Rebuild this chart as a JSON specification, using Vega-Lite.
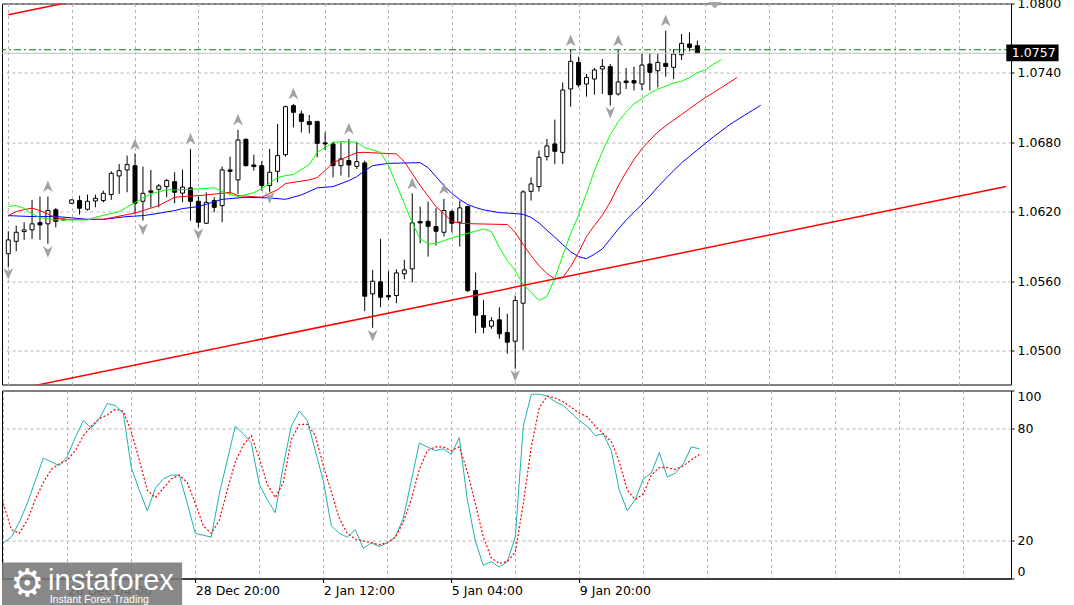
{
  "$schema": "https://vega.github.io/schema/vega-lite/v6.json",
  "background": "white",
  "padding": {"top": -3.5, "left": 0, "right": 0, "bottom": 0},
  "spacing": 4,
  "config": {
    "view": {"stroke": "#000000", "strokeWidth": 1},
    "axis": {"labelFont": "DejaVu Sans", "labelFontSize": 12.5, "labelColor": "#000000", "tickColor": "#000000", "domainColor": "#000000", "gridColor": "#b4b4b4", "gridDash": [3, 3], "gridWidth": 1, "title": null}
  },
  "datasets": {
    "candles": [
      {"i":0,"o":1.05836,"h":1.06031,"l":1.05720,"c":1.05956},
      {"i":1,"o":1.05944,"h":1.06080,"l":1.05858,"c":1.06022},
      {"i":2,"o":1.06028,"h":1.06109,"l":1.05956,"c":1.06043},
      {"i":3,"o":1.06043,"h":1.06302,"l":1.05965,"c":1.06095},
      {"i":4,"o":1.06106,"h":1.06331,"l":1.05956,"c":1.06086},
      {"i":5,"o":1.06095,"h":1.06331,"l":1.05922,"c":1.06210},
      {"i":6,"o":1.06216,"h":1.06233,"l":1.06065,"c":1.06117},
      {"i":7,"o":1.06135,"h":1.06141,"l":1.06126,"c":1.06129},
      {"i":8,"o":1.06273,"h":1.06305,"l":1.06268,"c":1.06302},
      {"i":9,"o":1.06296,"h":1.06339,"l":1.06175,"c":1.06230},
      {"i":10,"o":1.06221,"h":1.06348,"l":1.06210,"c":1.06290},
      {"i":11,"o":1.06293,"h":1.06348,"l":1.06238,"c":1.06316},
      {"i":12,"o":1.06296,"h":1.06382,"l":1.06281,"c":1.06359},
      {"i":13,"o":1.06348,"h":1.06549,"l":1.06302,"c":1.06532},
      {"i":14,"o":1.06509,"h":1.06613,"l":1.06354,"c":1.06555},
      {"i":15,"o":1.06561,"h":1.06685,"l":1.06368,"c":1.06607},
      {"i":16,"o":1.06598,"h":1.06702,"l":1.06181,"c":1.06273},
      {"i":17,"o":1.06290,"h":1.06590,"l":1.06123,"c":1.06359},
      {"i":18,"o":1.06380,"h":1.06561,"l":1.06238,"c":1.06368},
      {"i":19,"o":1.06394,"h":1.06440,"l":1.06238,"c":1.06423},
      {"i":20,"o":1.06417,"h":1.06483,"l":1.06325,"c":1.06469},
      {"i":21,"o":1.06460,"h":1.06541,"l":1.06273,"c":1.06368},
      {"i":22,"o":1.06361,"h":1.06564,"l":1.06283,"c":1.06413},
      {"i":23,"o":1.06406,"h":1.06743,"l":1.06123,"c":1.06290},
      {"i":24,"o":1.06290,"h":1.06331,"l":1.06065,"c":1.06109},
      {"i":25,"o":1.06100,"h":1.06368,"l":1.06095,"c":1.06281},
      {"i":26,"o":1.06296,"h":1.06325,"l":1.06195,"c":1.06238},
      {"i":27,"o":1.06253,"h":1.06590,"l":1.06109,"c":1.06561},
      {"i":28,"o":1.06561,"h":1.06676,"l":1.06354,"c":1.06549},
      {"i":29,"o":1.06475,"h":1.06907,"l":1.06354,"c":1.06820},
      {"i":30,"o":1.06826,"h":1.06832,"l":1.06590,"c":1.06598},
      {"i":31,"o":1.06604,"h":1.06693,"l":1.06555,"c":1.06590},
      {"i":32,"o":1.06598,"h":1.06636,"l":1.06382,"c":1.06426},
      {"i":33,"o":1.06426,"h":1.06743,"l":1.06368,"c":1.06541},
      {"i":34,"o":1.06549,"h":1.06959,"l":1.06454,"c":1.06685},
      {"i":35,"o":1.06693,"h":1.07117,"l":1.06676,"c":1.07108},
      {"i":36,"o":1.07117,"h":1.07132,"l":1.06929,"c":1.07059},
      {"i":37,"o":1.07045,"h":1.07074,"l":1.06886,"c":1.06981},
      {"i":38,"o":1.06979,"h":1.07036,"l":1.06877,"c":1.06953},
      {"i":39,"o":1.06979,"h":1.06987,"l":1.06670,"c":1.06791},
      {"i":40,"o":1.06795,"h":1.06886,"l":1.06734,"c":1.06786},
      {"i":41,"o":1.06786,"h":1.06806,"l":1.06497,"c":1.06598},
      {"i":42,"o":1.06598,"h":1.06800,"l":1.06512,"c":1.06656},
      {"i":43,"o":1.06642,"h":1.06829,"l":1.06497,"c":1.06604},
      {"i":44,"o":1.06592,"h":1.06800,"l":1.06570,"c":1.06633},
      {"i":45,"o":1.06622,"h":1.06642,"l":1.05340,"c":1.05469},
      {"i":46,"o":1.05490,"h":1.05697,"l":1.05196,"c":1.05599},
      {"i":47,"o":1.05594,"h":1.05965,"l":1.05374,"c":1.05461},
      {"i":48,"o":1.05475,"h":1.05685,"l":1.05438,"c":1.05464},
      {"i":49,"o":1.05475,"h":1.05702,"l":1.05409,"c":1.05671},
      {"i":50,"o":1.05663,"h":1.05784,"l":1.05616,"c":1.05697},
      {"i":51,"o":1.05706,"h":1.06359,"l":1.05590,"c":1.06103},
      {"i":52,"o":1.06115,"h":1.06244,"l":1.05927,"c":1.06103},
      {"i":53,"o":1.06117,"h":1.06287,"l":1.05812,"c":1.06074},
      {"i":54,"o":1.06071,"h":1.06233,"l":1.05907,"c":1.06031},
      {"i":55,"o":1.06022,"h":1.06311,"l":1.05985,"c":1.06210},
      {"i":56,"o":1.06201,"h":1.06216,"l":1.06022,"c":1.06100},
      {"i":57,"o":1.06109,"h":1.06296,"l":1.05899,"c":1.06233},
      {"i":58,"o":1.06244,"h":1.06253,"l":1.05504,"c":1.05518},
      {"i":59,"o":1.05518,"h":1.05674,"l":1.05149,"c":1.05305},
      {"i":60,"o":1.05302,"h":1.05438,"l":1.05149,"c":1.05201},
      {"i":61,"o":1.05210,"h":1.05288,"l":1.05188,"c":1.05257},
      {"i":62,"o":1.05265,"h":1.05374,"l":1.05101,"c":1.05144},
      {"i":63,"o":1.05156,"h":1.05317,"l":1.04972,"c":1.05072},
      {"i":64,"o":1.05080,"h":1.05475,"l":1.04842,"c":1.05432},
      {"i":65,"o":1.05409,"h":1.06385,"l":1.05006,"c":1.06371},
      {"i":66,"o":1.06376,"h":1.06497,"l":1.06296,"c":1.06440},
      {"i":67,"o":1.06417,"h":1.06728,"l":1.06376,"c":1.06670},
      {"i":68,"o":1.06676,"h":1.06829,"l":1.06642,"c":1.06769},
      {"i":69,"o":1.06786,"h":1.06996,"l":1.06613,"c":1.06722},
      {"i":70,"o":1.06713,"h":1.07318,"l":1.06613,"c":1.07252},
      {"i":71,"o":1.07261,"h":1.07598,"l":1.07108,"c":1.07500},
      {"i":72,"o":1.07491,"h":1.07540,"l":1.07275,"c":1.07296},
      {"i":73,"o":1.07304,"h":1.07391,"l":1.07195,"c":1.07361},
      {"i":74,"o":1.07347,"h":1.07443,"l":1.07212,"c":1.07425},
      {"i":75,"o":1.07434,"h":1.07520,"l":1.07218,"c":1.07456},
      {"i":76,"o":1.07454,"h":1.07477,"l":1.07117,"c":1.07212},
      {"i":77,"o":1.07218,"h":1.07598,"l":1.07203,"c":1.07322},
      {"i":78,"o":1.07330,"h":1.07443,"l":1.07261,"c":1.07316},
      {"i":79,"o":1.07333,"h":1.07454,"l":1.07248,"c":1.07313},
      {"i":80,"o":1.07304,"h":1.07563,"l":1.07252,"c":1.07468},
      {"i":81,"o":1.07477,"h":1.07569,"l":1.07248,"c":1.07405},
      {"i":82,"o":1.07419,"h":1.07563,"l":1.07275,"c":1.07491},
      {"i":83,"o":1.07482,"h":1.07765,"l":1.07367,"c":1.07456},
      {"i":84,"o":1.07448,"h":1.07607,"l":1.07347,"c":1.07563},
      {"i":85,"o":1.07557,"h":1.07736,"l":1.07512,"c":1.07655},
      {"i":86,"o":1.07650,"h":1.07750,"l":1.07586,"c":1.07621},
      {"i":87,"o":1.07635,"h":1.07679,"l":1.07572,"c":1.07572}
    ],
    "gator": [
      {"s":"jaw","i":0,"p":1.06166},{"s":"jaw","i":3,"p":1.06158},{"s":"jaw","i":6,"p":1.06158},{"s":"jaw","i":8,"p":1.06147},{"s":"jaw","i":10,"p":1.06134},{"s":"jaw","i":12,"p":1.06134},{"s":"jaw","i":15,"p":1.06158},{"s":"jaw","i":17,"p":1.06166},{"s":"jaw","i":19,"p":1.06186},{"s":"jaw","i":21,"p":1.06210},{"s":"jaw","i":22,"p":1.06227},{"s":"jaw","i":24,"p":1.06244},{"s":"jaw","i":27,"p":1.06307},{"s":"jaw","i":30,"p":1.06325},{"s":"jaw","i":33,"p":1.06319},{"s":"jaw","i":35,"p":1.06307},{"s":"jaw","i":37,"p":1.06345},{"s":"jaw","i":39,"p":1.06406},{"s":"jaw","i":41,"p":1.06417},{"s":"jaw","i":43,"p":1.06469},{"s":"jaw","i":44,"p":1.06503},{"s":"jaw","i":45,"p":1.06555},{"s":"jaw","i":46,"p":1.06598},{"s":"jaw","i":48,"p":1.06618},{"s":"jaw","i":52,"p":1.06624},{"s":"jaw","i":53,"p":1.06581},{"s":"jaw","i":54,"p":1.06503},{"s":"jaw","i":55,"p":1.06426},{"s":"jaw","i":56,"p":1.06357},{"s":"jaw","i":57,"p":1.06305},{"s":"jaw","i":58,"p":1.06262},{"s":"jaw","i":59,"p":1.06236},{"s":"jaw","i":60,"p":1.06216},{"s":"jaw","i":62,"p":1.06192},{"s":"jaw","i":64,"p":1.06184},{"s":"jaw","i":65,"p":1.06177},{"s":"jaw","i":66,"p":1.06151},{"s":"jaw","i":67,"p":1.06103},{"s":"jaw","i":68,"p":1.06040},{"s":"jaw","i":69,"p":1.05979},{"s":"jaw","i":70,"p":1.05916},{"s":"jaw","i":71,"p":1.05853},{"s":"jaw","i":72,"p":1.05811},{"s":"jaw","i":73,"p":1.05794},{"s":"jaw","i":74,"p":1.05832},{"s":"jaw","i":75,"p":1.05878},{"s":"jaw","i":76,"p":1.05962},{"s":"jaw","i":77,"p":1.06049},{"s":"jaw","i":78,"p":1.06127},{"s":"jaw","i":79,"p":1.06195},{"s":"jaw","i":80,"p":1.06264},{"s":"jaw","i":81,"p":1.06335},{"s":"jaw","i":82,"p":1.06414},{"s":"jaw","i":83,"p":1.06486},{"s":"jaw","i":84,"p":1.06555},{"s":"jaw","i":85,"p":1.06622},{"s":"jaw","i":86,"p":1.06678},{"s":"jaw","i":87,"p":1.06734},{"s":"jaw","i":88,"p":1.06790},{"s":"jaw","i":89,"p":1.06846},{"s":"jaw","i":90,"p":1.06897},{"s":"jaw","i":91,"p":1.06949},{"s":"jaw","i":92,"p":1.06993},{"s":"jaw","i":93,"p":1.07036},{"s":"jaw","i":94,"p":1.07078},{"s":"jaw","i":95,"p":1.07120},
      {"s":"teeth","i":0,"p":1.06166},{"s":"teeth","i":1,"p":1.06201},{"s":"teeth","i":2,"p":1.06218},{"s":"teeth","i":3,"p":1.06231},{"s":"teeth","i":4,"p":1.06210},{"s":"teeth","i":6,"p":1.06149},{"s":"teeth","i":7,"p":1.06134},{"s":"teeth","i":12,"p":1.06134},{"s":"teeth","i":15,"p":1.06175},{"s":"teeth","i":16,"p":1.06188},{"s":"teeth","i":19,"p":1.06253},{"s":"teeth","i":21,"p":1.06325},{"s":"teeth","i":22,"p":1.06331},{"s":"teeth","i":24,"p":1.06339},{"s":"teeth","i":26,"p":1.06352},{"s":"teeth","i":28,"p":1.06368},{"s":"teeth","i":29,"p":1.06339},{"s":"teeth","i":32,"p":1.06325},{"s":"teeth","i":34,"p":1.06391},{"s":"teeth","i":35,"p":1.06443},{"s":"teeth","i":38,"p":1.06475},{"s":"teeth","i":39,"p":1.06495},{"s":"teeth","i":40,"p":1.06556},{"s":"teeth","i":41,"p":1.06624},{"s":"teeth","i":43,"p":1.06681},{"s":"teeth","i":44,"p":1.06711},{"s":"teeth","i":45,"p":1.06713},{"s":"teeth","i":49,"p":1.06699},{"s":"teeth","i":50,"p":1.06633},{"s":"teeth","i":52,"p":1.06426},{"s":"teeth","i":54,"p":1.06244},{"s":"teeth","i":55,"p":1.06184},{"s":"teeth","i":56,"p":1.06115},{"s":"teeth","i":57,"p":1.06100},{"s":"teeth","i":59,"p":1.06095},{"s":"teeth","i":63,"p":1.06089},{"s":"teeth","i":64,"p":1.06022},{"s":"teeth","i":65,"p":1.05916},{"s":"teeth","i":66,"p":1.05821},{"s":"teeth","i":67,"p":1.05734},{"s":"teeth","i":68,"p":1.05665},{"s":"teeth","i":69,"p":1.05619},{"s":"teeth","i":70,"p":1.05631},{"s":"teeth","i":71,"p":1.05726},{"s":"teeth","i":72,"p":1.05847},{"s":"teeth","i":73,"p":1.05985},{"s":"teeth","i":74,"p":1.06081},{"s":"teeth","i":75,"p":1.06169},{"s":"teeth","i":76,"p":1.06284},{"s":"teeth","i":77,"p":1.06422},{"s":"teeth","i":78,"p":1.06542},{"s":"teeth","i":79,"p":1.06652},{"s":"teeth","i":80,"p":1.06744},{"s":"teeth","i":81,"p":1.06820},{"s":"teeth","i":82,"p":1.06888},{"s":"teeth","i":83,"p":1.06943},{"s":"teeth","i":84,"p":1.06992},{"s":"teeth","i":85,"p":1.07041},{"s":"teeth","i":86,"p":1.07088},{"s":"teeth","i":87,"p":1.07139},{"s":"teeth","i":88,"p":1.07185},{"s":"teeth","i":89,"p":1.07229},{"s":"teeth","i":90,"p":1.07272},{"s":"teeth","i":91,"p":1.07316},{"s":"teeth","i":92,"p":1.07359},
      {"s":"lips","i":0,"p":1.06247},{"s":"lips","i":1,"p":1.06253},{"s":"lips","i":2,"p":1.06229},{"s":"lips","i":3,"p":1.06181},{"s":"lips","i":4,"p":1.06149},{"s":"lips","i":6,"p":1.06129},{"s":"lips","i":10,"p":1.06129},{"s":"lips","i":11,"p":1.06152},{"s":"lips","i":14,"p":1.06201},{"s":"lips","i":17,"p":1.06319},{"s":"lips","i":18,"p":1.06354},{"s":"lips","i":20,"p":1.06391},{"s":"lips","i":21,"p":1.06387},{"s":"lips","i":24,"p":1.06397},{"s":"lips","i":26,"p":1.06406},{"s":"lips","i":28,"p":1.06348},{"s":"lips","i":29,"p":1.06331},{"s":"lips","i":31,"p":1.06365},{"s":"lips","i":32,"p":1.06400},{"s":"lips","i":34,"p":1.06495},{"s":"lips","i":35,"p":1.06512},{"s":"lips","i":36,"p":1.06521},{"s":"lips","i":38,"p":1.06607},{"s":"lips","i":39,"p":1.06713},{"s":"lips","i":41,"p":1.06797},{"s":"lips","i":42,"p":1.06806},{"s":"lips","i":44,"p":1.06800},{"s":"lips","i":45,"p":1.06754},{"s":"lips","i":47,"p":1.06713},{"s":"lips","i":48,"p":1.06598},{"s":"lips","i":49,"p":1.06434},{"s":"lips","i":50,"p":1.06270},{"s":"lips","i":51,"p":1.06106},{"s":"lips","i":52,"p":1.05965},{"s":"lips","i":53,"p":1.05922},{"s":"lips","i":54,"p":1.05924},{"s":"lips","i":56,"p":1.05974},{"s":"lips","i":57,"p":1.05994},{"s":"lips","i":60,"p":1.06051},{"s":"lips","i":61,"p":1.06028},{"s":"lips","i":62,"p":1.05890},{"s":"lips","i":63,"p":1.05778},{"s":"lips","i":64,"p":1.05691},{"s":"lips","i":65,"p":1.05570},{"s":"lips","i":66,"p":1.05504},{"s":"lips","i":67,"p":1.05432},{"s":"lips","i":68,"p":1.05467},{"s":"lips","i":69,"p":1.05624},{"s":"lips","i":70,"p":1.05821},{"s":"lips","i":71,"p":1.06011},{"s":"lips","i":72,"p":1.06170},{"s":"lips","i":73,"p":1.06357},{"s":"lips","i":74,"p":1.06555},{"s":"lips","i":75,"p":1.06719},{"s":"lips","i":76,"p":1.06866},{"s":"lips","i":77,"p":1.06978},{"s":"lips","i":78,"p":1.07061},{"s":"lips","i":79,"p":1.07132},{"s":"lips","i":80,"p":1.07177},{"s":"lips","i":81,"p":1.07225},{"s":"lips","i":82,"p":1.07260},{"s":"lips","i":83,"p":1.07285},{"s":"lips","i":84,"p":1.07313},{"s":"lips","i":85,"p":1.07328},{"s":"lips","i":86,"p":1.07359},{"s":"lips","i":87,"p":1.07402},{"s":"lips","i":88,"p":1.07425},{"s":"lips","i":89,"p":1.07475},{"s":"lips","i":90,"p":1.07514}
    ],
    "trend": [
      {"t":"lower","i":0,"p":1.04650},{"t":"lower","i":125.96,"p":1.06418},
      {"t":"upper","i":0,"p":1.07903},{"t":"upper","i":12,"p":1.08072}
    ],
    "fractals": [
      {"i":5,"p":1.06417,"d":"up"},{"i":16,"p":1.06780,"d":"up"},{"i":23,"p":1.06829,"d":"up"},{"i":29,"p":1.06993,"d":"up"},{"i":36,"p":1.07218,"d":"up"},{"i":43,"p":1.06916,"d":"up"},{"i":51,"p":1.06440,"d":"up"},{"i":55,"p":1.06397,"d":"up"},{"i":71,"p":1.07678,"d":"up"},{"i":77,"p":1.07678,"d":"up"},{"i":83,"p":1.07851,"d":"up"},
      {"i":0,"p":1.05665,"d":"down"},{"i":5,"p":1.05855,"d":"down"},{"i":17,"p":1.06050,"d":"down"},{"i":24,"p":1.06008,"d":"down"},{"i":33,"p":1.06322,"d":"down"},{"i":46,"p":1.05130,"d":"down"},{"i":64,"p":1.04784,"d":"down"},{"i":76,"p":1.07059,"d":"down"}
    ],
    "stoch": [
      {"i":0,"k":19,"d":40},{"i":1,"k":22,"d":26},{"i":2,"k":30,"d":24},{"i":3,"k":40,"d":31},{"i":4,"k":52,"d":42},{"i":5,"k":64,"d":51},{"i":6,"k":62,"d":58},{"i":7,"k":60,"d":61},{"i":8,"k":65,"d":63},{"i":9,"k":75,"d":68},
      {"i":10,"k":84,"d":76},{"i":11,"k":80,"d":81},{"i":12,"k":85,"d":85},{"i":13,"k":93,"d":87},{"i":14,"k":92,"d":90},{"i":15,"k":88,"d":89},{"i":16,"k":59,"d":78},{"i":17,"k":47,"d":63},{"i":18,"k":36,"d":47},{"i":19,"k":48,"d":43},
      {"i":20,"k":53,"d":48},{"i":21,"k":55,"d":53},{"i":22,"k":55,"d":55},{"i":23,"k":40,"d":51},{"i":24,"k":24,"d":40},{"i":25,"k":23,"d":28},{"i":26,"k":22,"d":24},{"i":27,"k":45,"d":31},{"i":28,"k":63,"d":47},{"i":29,"k":81,"d":62},
      {"i":30,"k":77,"d":71},{"i":31,"k":72,"d":76},{"i":32,"k":50,"d":64},{"i":33,"k":42,"d":50},{"i":34,"k":35,"d":43},{"i":35,"k":60,"d":51},{"i":36,"k":81,"d":74},{"i":37,"k":89,"d":82},{"i":38,"k":84,"d":82},{"i":39,"k":68,"d":76},
      {"i":40,"k":52,"d":60},{"i":41,"k":28,"d":46},{"i":42,"k":24,"d":32},{"i":43,"k":22,"d":24},{"i":44,"k":26,"d":21},{"i":45,"k":16,"d":20},{"i":46,"k":19,"d":19},{"i":47,"k":17,"d":18},{"i":48,"k":19,"d":19},{"i":49,"k":22,"d":22},
      {"i":50,"k":32,"d":30},{"i":51,"k":52,"d":42},{"i":52,"k":72,"d":58},{"i":53,"k":70,"d":68},{"i":54,"k":68,"d":70},{"i":55,"k":69,"d":70},{"i":56,"k":66,"d":68},{"i":57,"k":75,"d":70},{"i":58,"k":42,"d":57},{"i":59,"k":20,"d":40},
      {"i":60,"k":7,"d":22},{"i":61,"k":9,"d":11},{"i":62,"k":6,"d":8},{"i":63,"k":9,"d":9},{"i":64,"k":22,"d":14},{"i":65,"k":81,"d":40},{"i":66,"k":98,"d":70},{"i":67,"k":98,"d":91},{"i":68,"k":97,"d":97},{"i":69,"k":94,"d":96},
      {"i":70,"k":92,"d":94},{"i":71,"k":88,"d":91},{"i":72,"k":84,"d":88},{"i":73,"k":81,"d":86},{"i":74,"k":76,"d":81},{"i":75,"k":77,"d":77},{"i":76,"k":68,"d":73},{"i":77,"k":47,"d":62},{"i":78,"k":36,"d":47},{"i":79,"k":42,"d":42},
      {"i":80,"k":53,"d":45},{"i":81,"k":56,"d":55},{"i":82,"k":67,"d":59},{"i":83,"k":54,"d":59},{"i":84,"k":56,"d":58},{"i":85,"k":61,"d":60},{"i":86,"k":70,"d":63},{"i":87,"k":69,"d":66}
    ]
  },
  "vconcat": [
    {
      "width": 1009,
      "height": 381,
      "layer": [
        {
          "data": {"name": "candles"},
          "mark": {"type": "rule", "color": "#000000", "strokeWidth": 1, "clip": true},
          "encoding": {
            "x": {"field": "i", "type": "quantitative", "scale": {"domain": [-0.1625, 125.9625], "nice": false, "zero": false},
                  "axis": {"orient": "bottom", "values": [0,8,16,24,32,40,48,56,64,72,80,88,96,104,112,120], "labels": false, "ticks": false, "domain": false, "grid": true, "title": null}},
            "y": {"field": "l", "type": "quantitative", "scale": {"domain": [1.04706, 1.08], "nice": false, "zero": false},
                  "axis": {"orient": "right", "values": [1.05, 1.056, 1.062, 1.068, 1.074, 1.08], "format": ".4f", "tickSize": 3, "labelPadding": 3, "grid": true, "labelFlush": false, "title": null}},
            "y2": {"field": "h"}
          }
        },
        {
          "data": {"name": "candles"},
          "mark": {"type": "bar", "size": 4, "stroke": "#000000", "strokeWidth": 1, "clip": true},
          "encoding": {
            "x": {"field": "i", "type": "quantitative"},
            "y": {"field": "o", "type": "quantitative"},
            "y2": {"field": "c"},
            "fill": {"condition": {"test": "datum.c >= datum.o", "value": "#ffffff"}, "value": "#000000"}
          }
        },
        {
          "data": {"name": "gator"},
          "mark": {"type": "line", "strokeWidth": 1, "clip": true},
          "encoding": {
            "x": {"field": "i", "type": "quantitative"},
            "y": {"field": "p", "type": "quantitative"},
            "color": {"field": "s", "type": "nominal", "scale": {"domain": ["jaw", "teeth", "lips"], "range": ["#0000ff", "#ff0000", "#00ff00"]}, "legend": null}
          }
        },
        {
          "data": {"name": "trend"},
          "mark": {"type": "line", "color": "#ff0000", "strokeWidth": 1.5, "clip": true},
          "encoding": {
            "x": {"field": "i", "type": "quantitative"},
            "y": {"field": "p", "type": "quantitative"},
            "detail": {"field": "t"}
          }
        },
        {
          "data": {"name": "fractals"},
          "mark": {"type": "point", "filled": true, "size": 150, "opacity": 1, "clip": true},
          "encoding": {
            "x": {"field": "i", "type": "quantitative"},
            "y": {"field": "p", "type": "quantitative"},
            "shape": {"field": "d", "type": "nominal", "scale": {"domain": ["up", "down"], "range": ["M0,-1L0.8,0.9L0,0.35L-0.8,0.9Z", "M0,1L0.8,-0.9L0,-0.35L-0.8,-0.9Z"]}, "legend": null},
            "fill": {"value": "#a2a2a2"}
          }
        },
        {
          "data": {"values": [{"p": 1.0757}]},
          "mark": {"type": "rule", "color": "#c0c0c0", "strokeWidth": 1},
          "encoding": {"y": {"field": "p", "type": "quantitative"}}
        },
        {
          "data": {"values": [{"p": 1.0760}]},
          "mark": {"type": "rule", "color": "#008000", "strokeWidth": 1, "strokeDash": [7, 3, 2, 3]},
          "encoding": {"y": {"field": "p", "type": "quantitative"}}
        },
        {
          "data": {"values": [{"p": 1.0757, "lbl": "1.0757"}]},
          "mark": {"type": "rect", "color": "#000000"},
          "encoding": {
            "x": {"datum": 126.0, "type": "quantitative"},
            "x2": {"datum": 132.6},
            "y": {"datum": 1.07646, "type": "quantitative"},
            "y2": {"datum": 1.07500}
          }
        },
        {
          "data": {"values": [{"p": 1.0757, "lbl": "1.0757"}]},
          "mark": {"type": "text", "color": "#ffffff", "font": "DejaVu Sans", "fontSize": 12.5, "align": "left", "baseline": "middle"},
          "encoding": {
            "x": {"datum": 126.7, "type": "quantitative"},
            "y": {"field": "p", "type": "quantitative"},
            "text": {"field": "lbl"}
          }
        },
        {
          "data": {"values": [{"m": "shift"}]},
          "mark": {"type": "point", "filled": true, "size": 169, "shape": "M-1,-0.5L1,-0.5L0,0.5Z", "fill": "#a8a8a8", "opacity": 1},
          "encoding": {
            "x": {"datum": 89.2, "type": "quantitative"},
            "y": {"datum": 1.07985, "type": "quantitative"}
          }
        }
      ]
    },
    {
      "width": 1009,
      "height": 188,
      "layer": [
        {
          "data": {"name": "stoch"},
          "mark": {"type": "line", "color": "#20b2aa", "strokeWidth": 1},
          "encoding": {
            "x": {"field": "i", "type": "quantitative", "scale": {"domain": [-0.1625, 125.9625], "nice": false, "zero": false},
                  "axis": {"orient": "bottom", "values": [0,8,16,24,32,40,48,56,64,72,80,88,96,104,112,120], "grid": true, "zindex": 0,
                           "labelExpr": "datum.value == 8 ? '26 Dec 04:00' : datum.value == 24 ? '28 Dec 20:00' : datum.value == 40 ? '2 Jan 12:00' : datum.value == 56 ? '5 Jan 04:00' : datum.value == 72 ? '9 Jan 20:00' : ''",
                           "labelAlign": "left", "labelBaseline": "top", "labelPadding": 2, "tickSize": 4, "labelFlush": false, "labelOverlap": false,
                           "tickOpacity": {"condition": {"test": "datum.value == 8 || datum.value == 24 || datum.value == 40 || datum.value == 56 || datum.value == 72", "value": 1}, "value": 0},
                           "title": null}},
            "y": {"field": "k", "type": "quantitative", "scale": {"domain": [0, 100], "nice": false, "zero": false},
                  "axis": {"orient": "right", "values": [0, 20, 80, 100], "grid": true, "tickSize": 3, "labelPadding": 3, "labelFlush": true, "zindex": 0,
                           "gridOpacity": {"condition": {"test": "datum.value == 20 || datum.value == 80", "value": 1}, "value": 0}, "title": null}}
          }
        },
        {
          "data": {"name": "stoch"},
          "mark": {"type": "line", "color": "#ff0000", "strokeWidth": 1.2, "strokeDash": [2, 2]},
          "encoding": {
            "x": {"field": "i", "type": "quantitative"},
            "y": {"field": "d", "type": "quantitative"}
          }
        },
        {
          "data": {"values": [{"w": "logo"}]},
          "mark": {"type": "rect", "color": "#777777", "opacity": 0.88},
          "encoding": {
            "x": {"datum": -0.1625, "type": "quantitative"},
            "x2": {"datum": 22.35},
            "y": {"datum": 8.5, "type": "quantitative"},
            "y2": {"datum": -15.5}
          }
        },
        {
          "data": {"values": [{"t": "instaforex"}]},
          "mark": {"type": "text", "color": "#ffffff", "font": "Liberation Sans", "fontSize": 29, "align": "left", "baseline": "middle"},
          "encoding": {
            "x": {"datum": 5.6, "type": "quantitative"},
            "y": {"datum": -1.5, "type": "quantitative"},
            "text": {"field": "t"}
          }
        },
        {
          "data": {"values": [{"t": "Instant Forex Trading"}]},
          "mark": {"type": "text", "color": "#ffffff", "font": "Liberation Sans", "fontSize": 10.5, "align": "left", "baseline": "middle"},
          "encoding": {
            "x": {"datum": 5.8, "type": "quantitative"},
            "y": {"datum": -11.3, "type": "quantitative"},
            "text": {"field": "t"}
          }
        },
        {
          "data": {"values": [{"t": "⚙"}]},
          "mark": {"type": "text", "color": "#ffffff", "font": "DejaVu Sans", "fontSize": 38, "align": "center", "baseline": "middle"},
          "encoding": {
            "x": {"datum": 3.0, "type": "quantitative"},
            "y": {"datum": -3.2, "type": "quantitative"},
            "text": {"field": "t"}
          }
        }
      ]
    }
  ]
}
